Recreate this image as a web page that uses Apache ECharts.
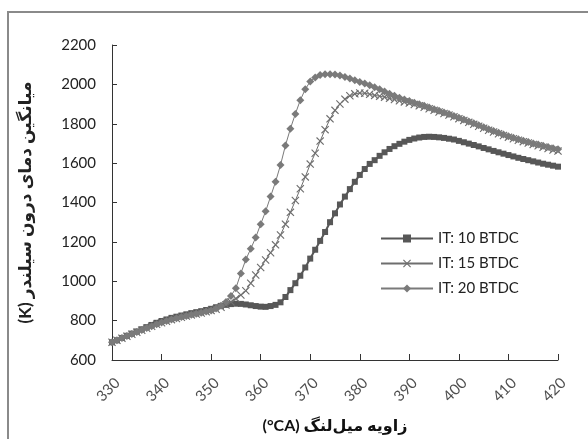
<!DOCTYPE html>
<html>
<head>
<meta charset="utf-8">
<script src="https://cdn.jsdelivr.net/npm/echarts@6/dist/echarts.min.js"></script>
<style>
  html, body { margin: 0; padding: 0; background: #fff; }
  #chart { width: 588px; height: 439px; }
</style>
</head>
<body>
<div id="chart"></div>
<script>
// crank angle, one point per degree
const angles = [];
for (let a = 330; a <= 420; a++) angles.push(a);

// x tick labels (drawn as rotated labels at the bottom of the plot)
const xTicks = [330, 340, 350, 360, 370, 380, 390, 400, 410, 420];
const yMin = 600;
const yMax = 2200;

const it10 = [
  690, 700, 712, 723, 734, 745, 756, 767, 778, 789,
  798, 806, 814, 820, 826, 832, 838, 843, 848, 854,
  860, 868, 875, 880, 884, 886, 885, 882, 878, 874,
  871, 870, 874, 880, 893, 920, 955, 990, 1028, 1070,
  1115, 1160, 1205, 1250, 1300, 1345, 1390, 1430, 1468, 1505,
  1540, 1570, 1596, 1615, 1637, 1655, 1672, 1686, 1698, 1709,
  1718, 1725, 1730, 1733, 1734, 1733, 1731, 1728, 1724, 1720,
  1713, 1706, 1699, 1692, 1685, 1677, 1670, 1662, 1655, 1648,
  1641, 1634, 1627, 1621, 1615, 1609, 1603, 1597, 1592, 1587,
  1582
];
const it15 = [
  690, 700, 711, 721, 731, 741, 751, 761, 771, 781,
  789, 797, 805, 811, 817, 823, 829, 834, 839, 845,
  851, 858, 868, 880, 895, 912, 930, 952, 990, 1032,
  1070, 1108, 1145, 1185, 1235, 1290, 1350, 1410, 1470, 1530,
  1595, 1650, 1712, 1770, 1825, 1868, 1900, 1925, 1942, 1952,
  1956, 1955, 1950, 1944, 1940, 1935, 1929, 1923, 1917, 1911,
  1905, 1898, 1891, 1884, 1876, 1868, 1860, 1852, 1844, 1835,
  1826, 1817, 1807, 1797, 1787, 1777, 1767, 1758, 1749, 1740,
  1732, 1724, 1716, 1709, 1702, 1695, 1688, 1681, 1674, 1667,
  1661
];
const it20 = [
  690, 700, 712, 722, 732, 742, 752, 762, 772, 782,
  790, 798, 806, 812, 818, 824, 830, 835, 840, 846,
  852, 862, 875, 895, 925, 965, 1040, 1110, 1165, 1222,
  1290, 1355, 1430, 1505, 1590, 1690, 1775, 1850, 1920, 1975,
  2015, 2035, 2048, 2052, 2052, 2050, 2045, 2038, 2030, 2021,
  2012, 2004, 1995, 1985, 1975, 1964, 1953, 1942, 1932, 1923,
  1915, 1907, 1899, 1891, 1883, 1874, 1866, 1857, 1849, 1840,
  1831, 1822, 1812, 1802, 1792, 1782, 1772, 1763, 1754, 1745,
  1737, 1729, 1721, 1714, 1707, 1700, 1694, 1688, 1682, 1676,
  1670
];
const seriesNames = ["IT: 10 BTDC", "IT: 15 BTDC", "IT: 20 BTDC"];

const crossPath = "path://M0,1L1,0L5,4L9,0L10,1L6,5L10,9L9,10L5,6L1,10L0,9L4,5Z";
const font = "Lato, 'DejaVu Sans', sans-serif";

const pairs = (vals) => angles.map((a, i) => [a, vals[i]]);

const tempChart = echarts.init(document.getElementById("chart"));

const chartOpts = {
  animation: false,
  backgroundColor: "#fff",
  graphic: [{
    type: "rect",
    shape: { x: 8, y: 12, width: 620, height: 460 },
    style: { fill: "none", stroke: "#8a8a8a", lineWidth: 2 },
    silent: true
  }],
  grid: { left: 112, right: 30, top: 45, bottom: 76 },
  legend: {
    orient: "vertical",
    left: 375,
    top: 226,
    itemWidth: 52,
    itemHeight: 10,
    itemGap: 10,
    textStyle: { fontFamily: font, fontSize: 15, color: "#222" },
    data: seriesNames
  },
  xAxis: {
    type: "value",
    min: xTicks[0],
    max: xTicks[xTicks.length - 1],
    interval: 10,
    name: "(°CA) زاویه میل‌لنگ",
    nameLocation: "middle",
    nameGap: 58,
    nameTextStyle: { fontFamily: font, fontSize: 16, fontWeight: "bold", color: "#111" },
    axisLine: { lineStyle: { color: "#333", width: 1 } },
    axisTick: { inside: true, length: 6, lineStyle: { color: "#333" } },
    axisLabel: { show: false },
    splitLine: { show: false }
  },
  yAxis: {
    type: "value",
    min: yMin,
    max: yMax,
    interval: 200,
    name: "(K) میانگین دمای درون سیلندر",
    nameLocation: "middle",
    nameGap: 78,
    nameRotate: 90,
    nameTextStyle: { fontFamily: font, fontSize: 17, fontWeight: "bold", color: "#222" },
    axisLine: { show: true, lineStyle: { color: "#333", width: 1 } },
    axisTick: { show: true, inside: true, length: 5, lineStyle: { color: "#333" } },
    axisLabel: { fontFamily: font, fontSize: 15, color: "#222", margin: 16, formatter: (x) => String(x) },
    splitLine: { show: false }
  },
  series: [
    {
      name: seriesNames[0],
      type: "line",
      data: pairs(it10),
      symbol: "rect",
      symbolSize: 6,
      lineStyle: { color: "#575757", width: 2 },
      itemStyle: { color: "#575757" }
    },
    {
      name: seriesNames[1],
      type: "line",
      data: pairs(it15),
      symbol: crossPath,
      symbolSize: 8,
      lineStyle: { color: "#6e6e6e", width: 1 },
      itemStyle: { color: "#6e6e6e" }
    },
    {
      name: seriesNames[2],
      type: "line",
      data: pairs(it20),
      symbol: "diamond",
      symbolSize: 8,
      lineStyle: { color: "#7a7a7a", width: 1 },
      itemStyle: { color: "#7a7a7a" }
    },
    {
      // rotated tick labels of the x axis
      name: "xTickLabels",
      type: "scatter",
      data: xTicks.map((t) => [t, yMin]),
      symbolSize: 1,
      itemStyle: { color: "rgba(0,0,0,0)" },
      clip: false,
      silent: true,
      z: 10,
      label: {
        show: true,
        position: [6, 21],
        rotate: 45,
        align: "right",
        verticalAlign: "middle",
        fontFamily: font,
        fontSize: 15,
        color: "#222",
        formatter: (p) => String(p.value[0])
      }
    }
  ]
};
tempChart.setOption(chartOpts);
</script>
</body>
</html>
